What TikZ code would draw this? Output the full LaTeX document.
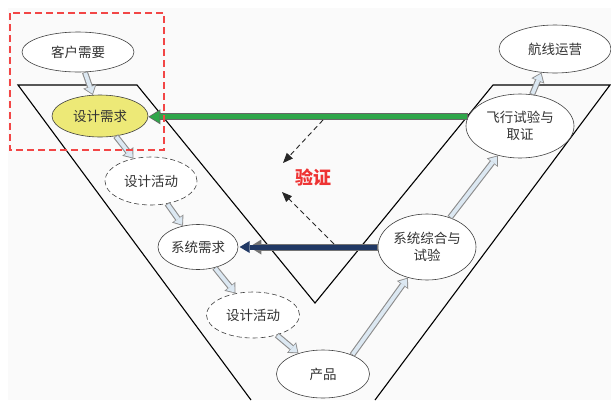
\documentclass[tikz,border=0pt]{standalone}
\usepackage{fontspec}
\newfontfamily\cjk{Noto Sans CJK SC}
\usetikzlibrary{arrows.meta,shapes.geometric}
\definecolor{yfill}{HTML}{EDE977}
\definecolor{ablue}{HTML}{DCE8F2}
\definecolor{gfill}{HTML}{2FA64A}
\definecolor{nfill}{HTML}{203864}
\definecolor{rdash}{HTML}{F24646}
\definecolor{vred}{HTML}{EE3333}
\begin{document}
\begin{tikzpicture}[x=1pt,y=-1pt,
  el/.style={ellipse, draw=black!75, line width=0.6pt, fill=white, inner sep=0pt,
    font=\cjk\fontsize{13.5}{17}\selectfont, text=black!80, align=center},
  dashel/.style={el, dash pattern=on 5pt off 3pt},
  blk/.style={draw=black!45, line width=6pt,
    -{Triangle[length=9pt,width=14pt,line width=0pt]},
    postaction={draw=ablue, line width=3.8pt,
      -{Triangle[length=7pt,width=10.5pt,line width=0pt]},
      shorten >=1.3pt, shorten <=0.8pt}},
  grn/.style={draw=black!60, line width=7pt,
    -{Triangle[length=12pt,width=15pt,line width=0pt]},
    postaction={draw=gfill, line width=5pt,
      -{Triangle[length=10pt,width=12pt,line width=0pt]},
      shorten >=1.3pt, shorten <=0.8pt}},
  nvy/.style={draw=black!55, line width=7pt,
    -{Triangle[length=12pt,width=15pt,line width=0pt]},
    postaction={draw=nfill, line width=5pt,
      -{Triangle[length=10pt,width=12pt,line width=0pt]},
      shorten >=1.3pt, shorten <=0.8pt}},
  vdash/.style={draw=black!85, line width=0.9pt, dash pattern=on 5pt off 3.5pt,
    -{Triangle[length=10pt,width=8pt]}}
]
\useasboundingbox (0,0) rectangle (611,400);
\fill[black!2] (8,8) rectangle (611,400);
% V outline
\draw[line width=1.1pt, line join=miter]
  (251,400) -- (18,85) -- (137,85) -- (315,303) -- (493,85) -- (610,85) -- (375,400);
% nodes
\node[el, minimum width=112, minimum height=40] (kh) at (78,52) {客户需要};
\node[el, fill=yfill, minimum width=96, minimum height=42] (sjxq) at (100,116) {设计需求};
\node[dashel, minimum width=92, minimum height=48] (hd1) at (151,181) {设计活动};
\node[el, minimum width=80, minimum height=45] (xtxq) at (198,247) {系统需求};
\node[dashel, minimum width=93, minimum height=46] (hd2) at (253,315) {设计活动};
\node[el, minimum width=93, minimum height=48] (cp) at (323,374) {产品};
\node[el, minimum width=98, minimum height=66] (zh) at (427,247) {系统综合与\\试验};
\node[el, minimum width=108, minimum height=64] (fx) at (520,126) {飞行试验与\\取证};
\node[el, minimum width=112, minimum height=48] (hx) at (555,49) {航线运营};
% block arrows
\draw[blk] (kh) -- (sjxq);
\draw[blk] (sjxq) -- (hd1);
\draw[blk] (hd1) -- (xtxq);
\draw[blk] (xtxq) -- (hd2);
\draw[blk] (hd2) -- (cp);
\draw[blk] (cp.33) -- (zh.238);
\draw[blk] (zh.52) -- (fx.233);
\draw[blk] (fx.69) -- (hx.240);
% feedback arrows
\draw[grn] (fx.170) -- (fx.170 -| sjxq.east);
\draw[nvy, shorten >=11pt] (zh.west) -- (xtxq.east);
% verification
\coordinate (v1s) at (323,120);
\coordinate (v1e) at (283,163);
\coordinate (v2s) at (334,244);
\coordinate (v2e) at (282,192);
\draw[vdash] (v1s) -- (v1e);
\draw[vdash] (v2s) -- (v2e);
\node[font=\cjk\bfseries\fontsize{18}{20}\selectfont, text=vred] (yz) at (313,177) {验证};
% red dashed frame
\draw[rdash, line width=1.6pt, dash pattern=on 7pt off 4pt] (10,13) rectangle (164,150);
\end{tikzpicture}
\end{document}
